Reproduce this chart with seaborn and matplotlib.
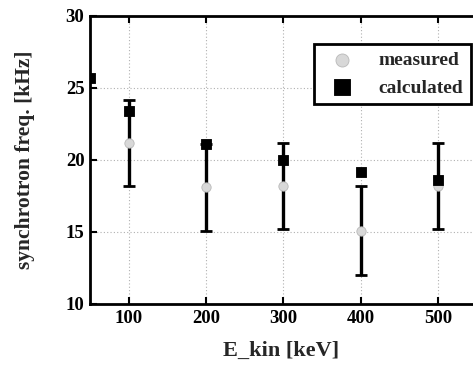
import matplotlib
matplotlib.use("Agg")
import matplotlib.pyplot as plt
import seaborn as sns
import pandas as pd
import numpy as np

energy_meas = [100, 200, 300, 400, 500]
freq_meas = [21.2, 18.1, 18.2, 15.1, 18.2]
err_meas = [3.0, 3.0, 3.0, 3.1, 3.0]

energy_calc = [50, 100, 200, 300, 400, 500]
freq_calc = [25.7, 23.4, 21.1, 20.0, 19.2, 18.6]

xticks = [100, 200, 300, 400, 500]
yticks = [10, 15, 20, 25, 30]

sns.set_theme(style="white")
plt.rcParams['font.family'] = ['Liberation Serif', 'DejaVu Serif']
plt.rcParams['font.weight'] = 'bold'

fig = plt.figure(figsize=(4.73, 3.86), dpi=100)
ax = fig.add_axes([90/473, 1-304/386, 1-90/473, (304-16)/386])

df_m = pd.DataFrame({"E": energy_meas, "f": freq_meas, "series": "measured"})
df_c = pd.DataFrame({"E": energy_calc, "f": freq_calc, "series": "calculated"})

ax.errorbar(energy_meas, freq_meas, yerr=err_meas, fmt='none', ecolor='black',
            elinewidth=2.4, capsize=4, capthick=2, zorder=2)
sns.scatterplot(data=df_m, x="E", y="f", ax=ax, marker='o', s=45, color='#d8d8d8',
                edgecolor='#b8b8b8', linewidth=0.6, label='measured', zorder=3)
sns.scatterplot(data=df_c, x="E", y="f", ax=ax, marker='s', s=60, color='black',
                edgecolor='black', label='calculated', zorder=4)

ax.set_xlim(50, 545)
ax.set_ylim(10, 30)
ax.set_xticks(xticks)
ax.set_yticks(yticks)
ax.set_xticklabels([str(t) for t in xticks], fontsize=13.5, fontweight='bold')
ax.set_yticklabels([str(t) for t in yticks], fontsize=13.5, fontweight='bold')
ax.grid(True, linestyle=(0, (1, 2)), color='#b0b0b0', linewidth=0.8)
ax.tick_params(direction='in', length=5, width=1.5, top=True, right=False,
               bottom=True, left=True, pad=4, colors='black')
for side in ['left', 'bottom', 'top']:
    ax.spines[side].set_linewidth(2)
    ax.spines[side].set_color('black')
ax.spines['right'].set_visible(False)

ax.set_xlabel("E_kin [keV]", fontsize=16, fontweight='bold', labelpad=10)
ax.set_ylabel("synchrotron freq. [kHz]", fontsize=15.5, fontweight='bold', labelpad=22)

leg = ax.legend(loc='upper right', bbox_to_anchor=(1.0, 0.91), frameon=True, fancybox=False,
                edgecolor='black', fontsize=14, handletextpad=0.9, borderpad=0.4,
                framealpha=1, markerscale=1.4, labelspacing=0.5, borderaxespad=0.1)
leg.get_frame().set_linewidth(2)
for t in leg.get_texts():
    t.set_fontweight('bold')

fig.savefig("out.png", dpi=100)
